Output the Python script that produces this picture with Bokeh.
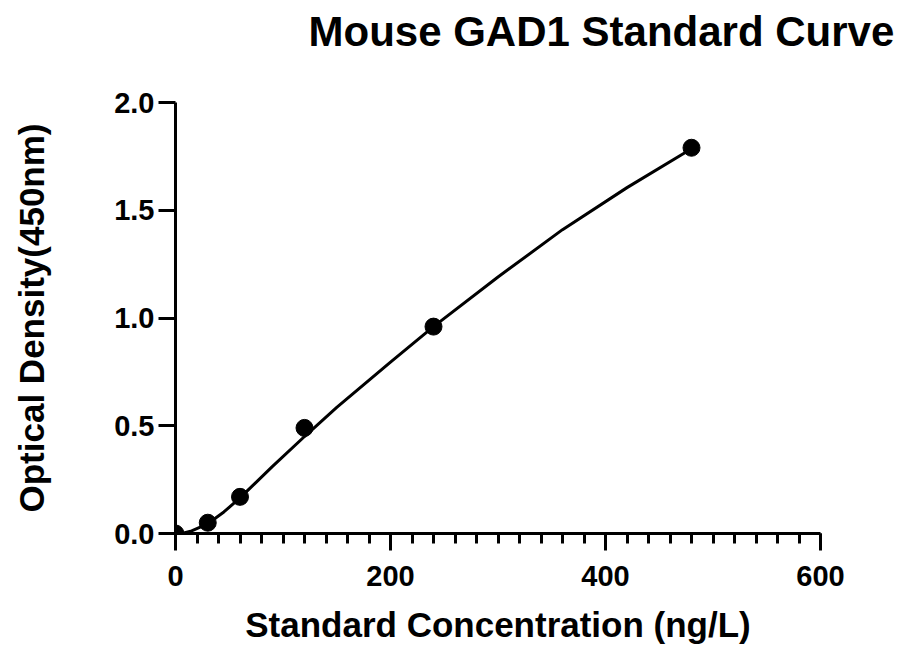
from bokeh.plotting import figure
from bokeh.models import SingleIntervalTicker, FixedTicker, NumeralTickFormatter, Title
from bokeh.embed import file_html
from bokeh.resources import INLINE

# standards (ng/L) and measured OD at 450nm
conc = [0, 30, 60, 120, 240, 480]
od = [0.0, 0.05, 0.17, 0.49, 0.96, 1.79]

# fitted curve
fit_x = [6, 15, 30, 45, 60, 90, 120, 150, 200, 240, 300, 360, 420, 480]
fit_y = [0.0, 0.012, 0.045, 0.10, 0.165, 0.31, 0.45, 0.585, 0.795, 0.96, 1.19, 1.41, 1.605, 1.785]

y_ticks = [0, 0.5, 1.0, 1.5, 2.0]

title_text = "Mouse GAD1 Standard Curve"
x_title = "Standard Concentration (ng/L)"
y_title = "Optical Density(450nm)"

FONT = "Liberation Sans"

p = figure(width=895, height=660, x_range=(0, 600), y_range=(0, 2.0),
           output_backend="svg", toolbar_location=None,
           min_border_left=175, min_border_right=75, min_border_top=102, min_border_bottom=127)
p.outline_line_color = None
p.xgrid.grid_line_color = None
p.ygrid.grid_line_color = None

# empty title band to push the real title up, away from the frame
p.title.text = ""
p.add_layout(Title(text=" ", text_font_size="10px", standoff=30), "above")
p.add_layout(Title(text=title_text, align="left", offset=133, standoff=10,
                   text_font=FONT, text_font_style="bold", text_font_size="42px",
                   text_color="black"), "above")

p.xaxis.ticker = SingleIntervalTicker(interval=200, num_minor_ticks=10)
p.yaxis.ticker = FixedTicker(ticks=y_ticks)
p.yaxis.formatter = NumeralTickFormatter(format="0.0")
p.xaxis.formatter = NumeralTickFormatter(format="0")
p.xaxis.axis_label = x_title
p.yaxis.axis_label = y_title

for ax in (p.xaxis, p.yaxis):
    ax.axis_line_width = 3
    ax.axis_line_color = "black"
    ax.major_tick_line_width = 3
    ax.minor_tick_line_width = 3
    ax.major_tick_in = 0
    ax.major_tick_out = 17
    ax.minor_tick_in = 0
    ax.minor_tick_out = 10
    ax.major_label_text_font = FONT
    ax.major_label_text_font_style = "bold"
    ax.major_label_text_font_size = "29px"
    ax.major_label_text_color = "black"
    ax.axis_label_text_font = FONT
    ax.axis_label_text_font_style = "bold"
    ax.axis_label_text_font_size = "35px"
    ax.axis_label_text_color = "black"
p.yaxis.minor_tick_line_color = None
p.xaxis.major_label_standoff = 15
p.yaxis.major_label_standoff = 4
p.xaxis.axis_label_standoff = 16
p.yaxis.axis_label_standoff = 60

p.line(fit_x, fit_y, line_width=3, line_color="black")
p.scatter(conc, od, size=17, fill_color="black", line_color="black")

open("out.html", "w").write(file_html(p, INLINE))
